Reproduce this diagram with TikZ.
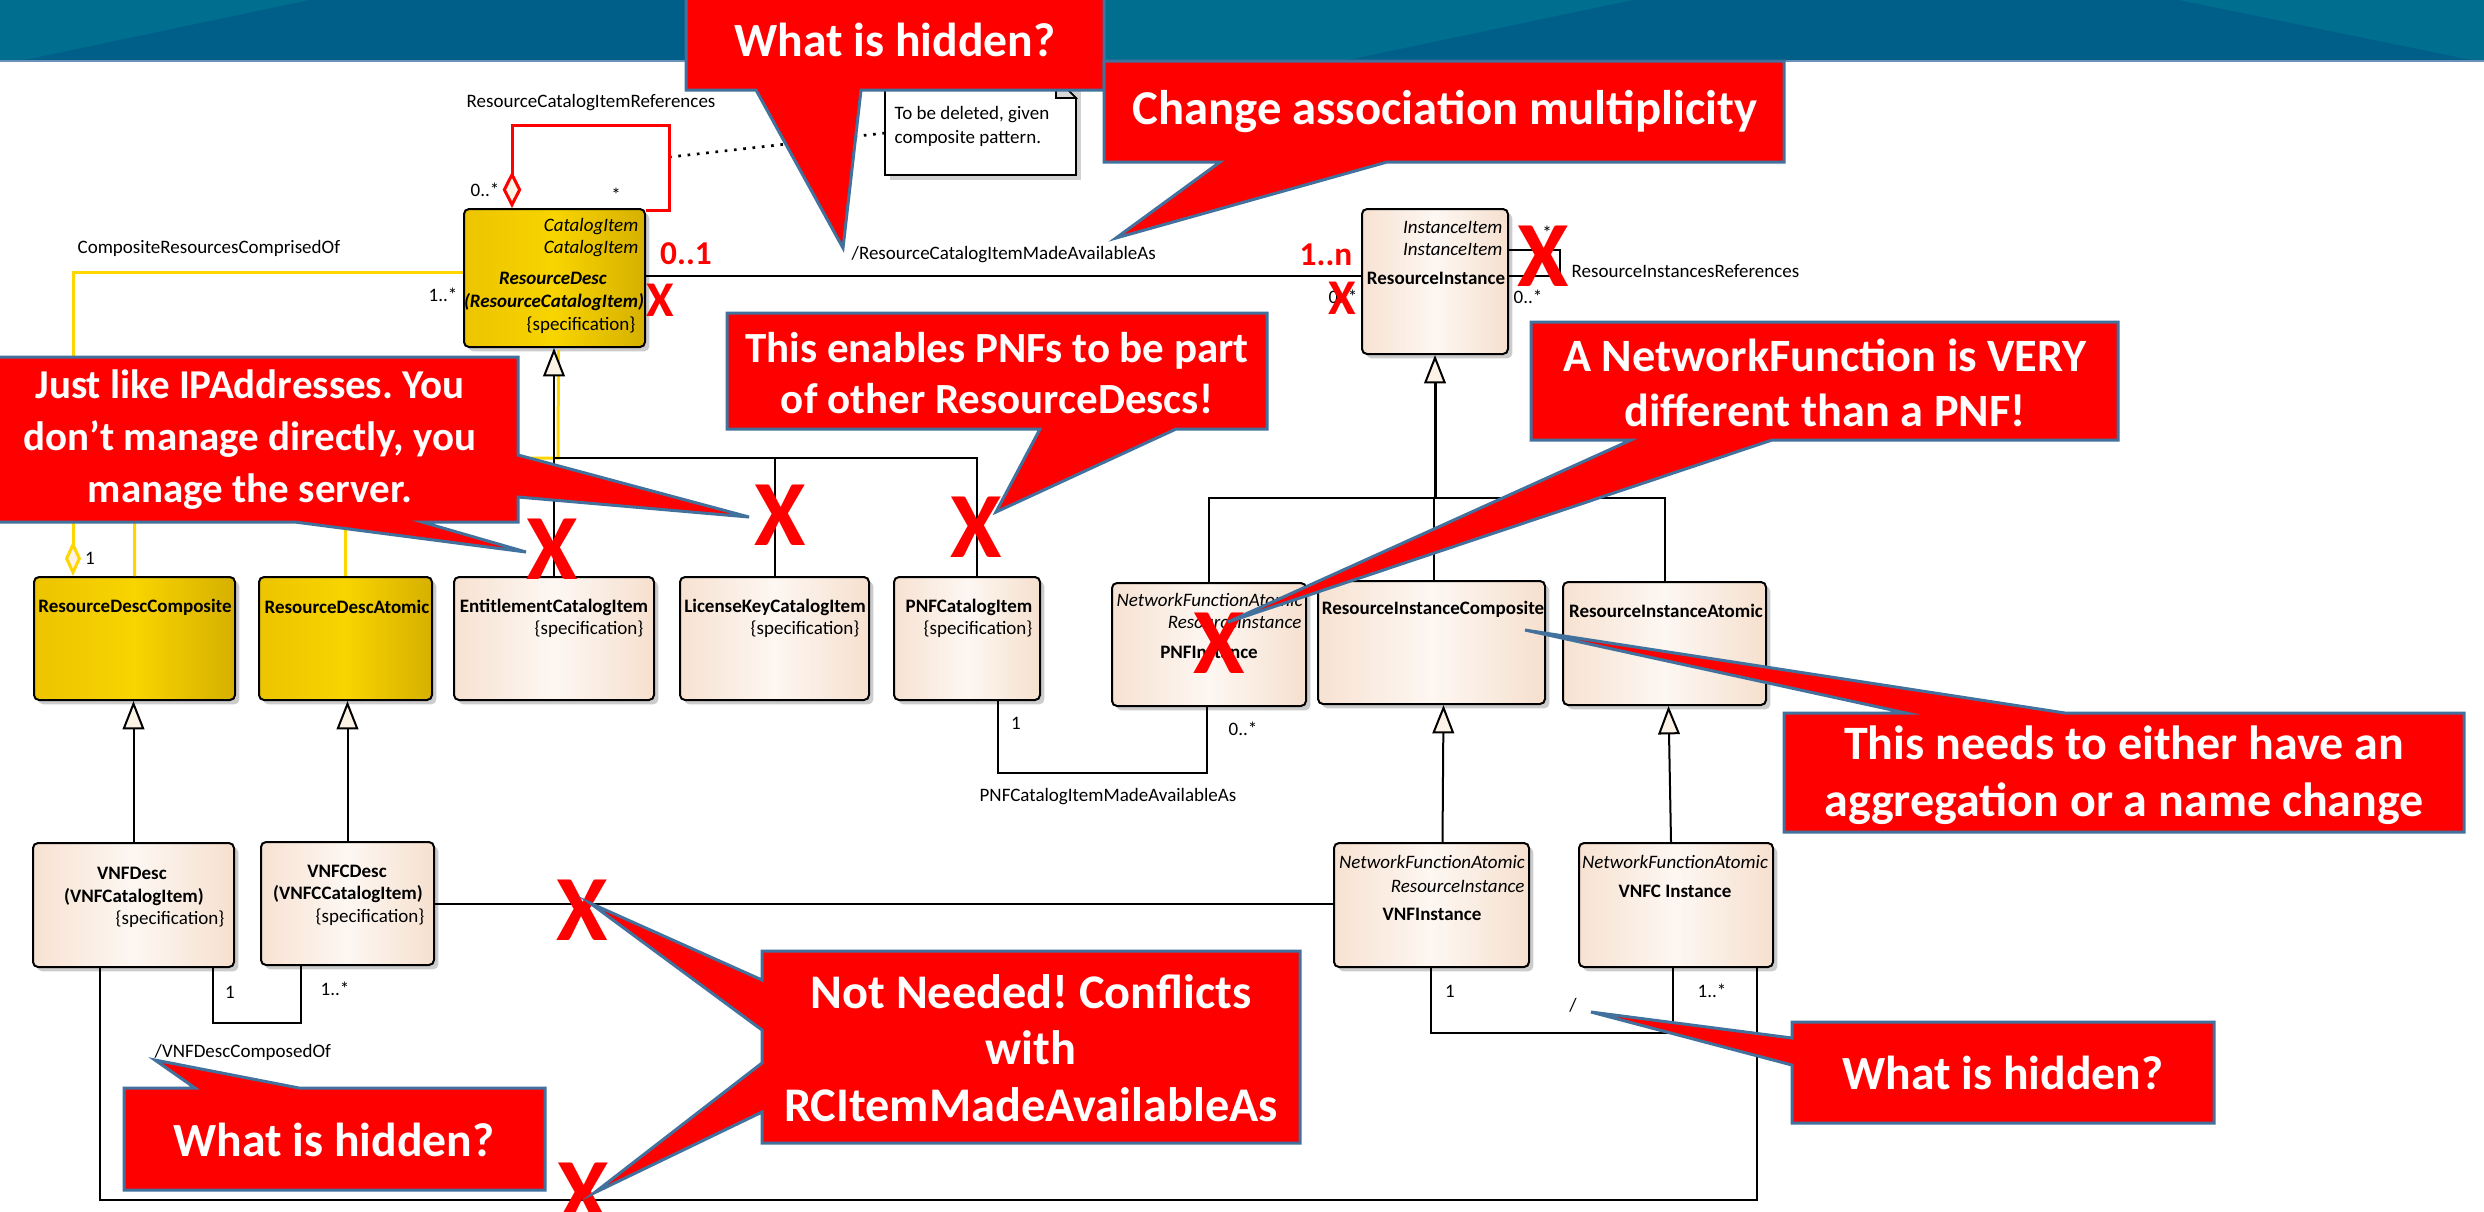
\documentclass[tikz,border=0pt]{standalone}
\usepackage{fontspec}
\setmainfont{Carlito}
\usetikzlibrary{arrows.meta,shadows,fit,calc}
\frenchspacing

\definecolor{bandblue}{RGB}{0,95,137}
\definecolor{bandlight}{RGB}{0,111,143}
\definecolor{bandline}{RGB}{105,145,185}
\definecolor{calloutred}{RGB}{255,0,0}
\definecolor{calloutedge}{RGB}{65,113,156}
\definecolor{goldL}{RGB}{236,196,0}
\definecolor{goldM}{RGB}{248,212,0}
\definecolor{goldR}{RGB}{214,176,0}
\definecolor{peachL}{RGB}{247,226,210}
\definecolor{peachM}{RGB}{253,247,242}
\definecolor{peachR}{RGB}{246,224,207}
\definecolor{linkyellow}{RGB}{255,214,0}
\definecolor{cream}{RGB}{252,242,230}

\tikzset{
  umlbase/.style={draw=black, line width=0.6pt, rounded corners=1.5pt, inner sep=0pt,
    drop shadow={shadow xshift=1.3pt, shadow yshift=-1.3pt, fill=black!20, opacity=1}},
  peachbox/.style={umlbase, left color=peachL, right color=peachR, middle color=peachM},
  goldbox/.style={umlbase, left color=goldL, right color=goldR, middle color=goldM},
  lbl/.style={inner sep=0pt, font=\fontsize{5.7}{6.8}\selectfont},
  lblit/.style={inner sep=0pt, font=\fontsize{5.7}{6.8}\selectfont\itshape},
  lblbf/.style={inner sep=0pt, font=\fontsize{5.7}{6.8}\selectfont\bfseries},
  lblbfit/.style={inner sep=0pt, font=\fontsize{5.7}{6.8}\selectfont\bfseries\itshape},
  redmult/.style={inner sep=0pt, text=red, font=\fontsize{10}{12}\selectfont\bfseries},
  bigx/.style={inner sep=0pt, text=red, font=\fontsize{28}{28}\selectfont\bfseries},
  smallx/.style={inner sep=0pt, text=red, font=\fontsize{15}{15}\selectfont\bfseries},
  umlline/.style={draw=black, line width=0.6pt},
  yellowline/.style={draw=linkyellow, line width=0.9pt},
  gen/.style={umlline, -{Triangle[length=8.5pt,width=6.5pt,fill=cream,line width=0.6pt]}},
  callout/.style={fill=calloutred, draw=calloutedge, line width=0.9pt, line join=miter},
  calltext/.style={inner sep=0pt, text=white, align=center,
    font=\fontsize{14.3}{17}\selectfont\bfseries},
}

\begin{document}
\begin{tikzpicture}[x=0.3pt,y=-0.3pt]
\useasboundingbox (0,0) rectangle (2484,1211);
\fill[white] (0,0) rectangle (2484,1211);

% ---------- slide header band ----------
\fill[bandblue] (0,0) rectangle (2484,60);
\fill[bandlight] (0,0) -- (309,0) -- (24,60) -- (0,60) -- cycle;
\fill[bandlight] (1104,0) -- (1632,0) -- (1347,60) -- (1104,60) -- cycle;
\fill[bandlight] (2179,0) -- (2484,0) -- (2484,60) -- (2472,60) -- cycle;
\draw[bandline, line width=0.8pt] (0,61) -- (2484,61);

% ---------- note ----------
\fill[black!18] (890,82) rectangle (1081,180);
\draw[fill=white, line width=0.5pt] (885,78) -- (1056,78) -- (1076,98) -- (1076,175) -- (885,175) -- cycle;
\draw[fill=black!15, line width=0.5pt] (1056,78) -- (1056,98) -- (1076,98) -- cycle;
\node[lbl, anchor=west] (note1) at (894,115) {To be deleted, given};
\node[lbl, anchor=west] (note2) at (894,138) {composite pattern.};
\coordinate (noteL) at (885,133);
\coordinate (loopR) at (670,157);
\draw[black, dotted, line width=0.8pt] (noteL) -- (loopR);

% ---------- classes ----------
\node[goldbox, fit={(464,209) (645,347)}] (RD) {};
\node[peachbox, fit={(1362,209) (1508,354)}] (RI) {};
\node[goldbox, fit={(34,577) (235,700)}] (RDC) {};
\node[goldbox, fit={(259,577) (432,700)}] (RDA) {};
\node[peachbox, fit={(454,577) (654,700)}] (ECI) {};
\node[peachbox, fit={(680,577) (869,700)}] (LKC) {};
\node[peachbox, fit={(894,577) (1040,700)}] (PNFC) {};
\node[peachbox, fit={(1112,583) (1306,706)}] (PNFI) {};
\node[peachbox, fit={(1318,581) (1545,704)}] (RIC) {};
\node[peachbox, fit={(1563,582) (1766,705)}] (RIA) {};
\node[peachbox, fit={(33,843) (234,967)}] (VNFD) {};
\node[peachbox, fit={(261,842) (434,965)}] (VNFCD) {};
\node[peachbox, fit={(1334,843) (1529,967)}] (VNFI) {};
\node[peachbox, fit={(1579,843) (1773,967)}] (VNFCI) {};

% ---------- generalisations ----------
\coordinate (rdbus) at (554,458);
\coordinate (ybus) at (558,458);
\draw[yellowline] (RDC.north) |- (ybus) -- ($(RD.south)+(4,2)$);
\draw[yellowline] (RDA.north) -- (RDA.north |- ybus);
\draw[gen] (ECI.north) -- (ECI.north |- RD.south);
\draw[umlline] (LKC.north) |- (rdbus);
\draw[umlline] ($(PNFC.north)+(10,0)$) |- (rdbus);

\coordinate (ribus) at (1434,498);
\draw[gen, line width=0.9pt] (RI.south |- ribus) -- (RI.south);
\draw[umlline] (PNFI.north) |- (RIA.north |- ribus) -- (RIA.north);
\draw[umlline] ($(RIC.north)+(2.5,0)$) -- ($(RIC.north |- ribus)+(2.5,0)$);

\draw[gen] (VNFD.north) -- (VNFD.north |- RDC.south);
\draw[gen] (VNFCD.north) -- (VNFCD.north |- RDA.south);
\draw[gen] ($(VNFI.north)+(11,0)$) -- ($(RIC.south)+(12,0)$);
\draw[gen] ($(VNFCI.north)+(-5,0)$) -- ($(RIA.south)+(4,0)$);

% ---------- associations ----------
\draw[umlline] ($(RD.east)+(0,-2)$) -- ($(RD.east -| RI.west)+(0,-2)$);
\draw[red, line width=0.9pt, {Diamond[length=11pt,width=5.6pt,fill=cream,line width=0.9pt]}-]
  ($(RD.north)+(-42.5,0)$) -- ++(0,-83) -| ($(RD.north east)+(23,2)$) -- ($(RD.north east)+(0,2)$);
\draw[yellowline, {Diamond[length=10.5pt,width=4.8pt,fill=cream,line width=0.9pt]}-]
  ($(RDC.north)+(-61.5,0)$) |- ($(RD.west)+(0,-6)$);
\draw[umlline] ($(RI.east)+(0,-31.5)$) -- ++(51,0) -- ++(0,26) -- ($(RI.east)+(0,-5.5)$);
\draw[umlline] ($(PNFC.south)+(31,0)$) -- ++(0,72) -| ($(PNFI.south)+(-2,0)$);
\draw[umlline] (VNFCD.east) -- (VNFCD.east -| VNFI.west);
\draw[umlline] ($(VNFD.south)+(79.5,0)$) -- ++(0,55) -| ($(VNFCD.south)+(-46.5,0)$);
\draw[umlline] ($(VNFD.south)+(-33.5,0)$) -- ++(0,232) -| ($(VNFCI.south)+(81,0)$);
\draw[umlline] ($(VNFI.south)+(-0.5,0)$) -- ++(0,65) -| ($(VNFCI.south)+(-3,0)$);

% ---------- class texts ----------
\node[lblit, anchor=east] (rdt1) at (639,227) {CatalogItem};
\node[lblit, anchor=east] (rdt2) at (639,249) {CatalogItem};
\node[lblbfit] (rdt3) at (553,278) {ResourceDesc};
\node[lblbfit] (rdt4) at (554,302) {(ResourceCatalogItem)};
\node[lbl, anchor=east] (rdt5) at (636,325) {\{specification\}};

\node[lblit, anchor=east] (rit1) at (1503,227) {InstanceItem};
\node[lblit, anchor=east] (rit2) at (1503,249) {InstanceItem};
\node[lblbf] (rit3) at (1436,278) {ResourceInstance};

\node[lblbf] (rdct) at (135,607) {ResourceDescComposite};
\node[lblbf] (rdat) at (347,607) {ResourceDescAtomic};
\node[lblbf] (ecit1) at (554,607) {EntitlementCatalogItem};
\node[lbl, anchor=east] (ecit2) at (644,629) {\{specification\}};
\node[lblbf] (lkct1) at (775,607) {LicenseKeyCatalogItem};
\node[lbl, anchor=east] (lkct2) at (860,629) {\{specification\}};
\node[lblbf] (pnfct1) at (969,607) {PNFCatalogItem};
\node[lbl, anchor=east] (pnfct2) at (1033,629) {\{specification\}};
\node[lblit, anchor=west] (pnfit1) at (1116,600) {NetworkFunctionAtomic};
\node[lblit, anchor=east] (pnfit2) at (1302,622) {ResourceInstance};
\node[lblbf] (pnfit3) at (1209,652) {PNFInstance};
\node[lblbf] (rict) at (1433,609) {ResourceInstanceComposite};
\node[lblbf] (riat) at (1666,611) {ResourceInstanceAtomic};

\node[lblbf] (vnfdt1) at (132,873) {VNFDesc};
\node[lblbf] (vnfdt2) at (134,897) {(VNFCatalogItem)};
\node[lbl, anchor=east] (vnfdt3) at (225,919) {\{specification\}};
\node[lblbf] (vnfcdt1) at (347,871) {VNFCDesc};
\node[lblbf] (vnfcdt2) at (348,894) {(VNFCCatalogItem)};
\node[lbl, anchor=east] (vnfcdt3) at (425,917) {\{specification\}};
\node[lblit] (vnfit1) at (1432,862) {NetworkFunctionAtomic};
\node[lblit, anchor=east] (vnfit2) at (1525,886) {ResourceInstance};
\node[lblbf] (vnfit3) at (1432,914) {VNFInstance};
\node[lblit] (vnfcit1) at (1675,862) {NetworkFunctionAtomic};
\node[lblbf] (vnfcit2) at (1675,891) {VNFC Instance};

% ---------- connector labels ----------
\node[lbl] (l1) at (591,103) {ResourceCatalogItemReferences};
\node[lbl] (l2) at (485,190) {0..*};
\node[lbl] (l3) at (616,195) {*};
\node[lbl, anchor=west] (l4) at (77,248) {CompositeResourcesComprisedOf};
\node[lbl] (l5) at (443,295) {1..*};
\node[lbl, anchor=west] (l6) at (851,255) {/ResourceCatalogItemMadeAvailableAs};
\node[lbl] (l7) at (1343,297) {0..*};
\node[lbl] (l8) at (1547,233) {*};
\node[lbl] (l9) at (1528,297) {0..*};
\node[lbl, anchor=west] (l10) at (1571,271) {ResourceInstancesReferences};
\node[lbl] (l11) at (90,558) {1};
\node[lbl] (l12) at (1016,723) {1};
\node[lbl] (l13) at (1243,729) {0..*};
\node[lbl] (l14) at (1108,797) {PNFCatalogItemMadeAvailableAs};
\node[lbl] (l15) at (230,992) {1};
\node[lbl] (l16) at (335,989) {1..*};
\node[lbl, anchor=west] (l17) at (154,1052) {/VNFDescComposedOf};
\node[lbl] (l18) at (1450,991) {1};
\node[lbl] (l19) at (1712,991) {1..*};
\node[lbl] (l20) at (1573,1005) {/};

% ---------- review marks ----------
\node[redmult] (m1) at (686,254) {0..1};
\node[redmult] (m2) at (1326,255) {1..n};
\node[smallx] (x1) at (660,300) {X};
\node[smallx] (x2) at (1342,298) {X};
\node[bigx] (x3) at (1543,256) {X};
\node[bigx] (x4) at (552,549) {X};
\node[bigx] (x5) at (780,515) {X};
\node[bigx] (x6) at (976,527) {X};
\node[bigx] (x7) at (1219,643) {X};
\node[bigx] (x8) at (582,910) {X};
\node[bigx] (x9) at (583,1193) {X};

% ---------- callouts ----------
\draw[callout] (686,-5) -- (1104,-5) -- (1104,90) -- (861,90) -- (843,248) -- (756,90) -- (686,90) -- cycle;
\node[calltext] (c1) at (895,40) {What is hidden?};

\draw[callout] (1104,61) -- (1784,61) -- (1784,162) -- (1387,162) -- (1116,238) -- (1220,162) -- (1104,162) -- cycle;
\node[calltext, font=\fontsize{14.6}{17}\selectfont\bfseries] (c2) at (1445,111) {Change association multiplicity};

\draw[callout] (-5,357) -- (518,357) -- (518,455) -- (749,517) -- (518,497) -- (518,522)
  -- (422,522) -- (526,552) -- (295,522) -- (-5,522) -- cycle;
\node[calltext, font=\fontsize{12.3}{15.6}\selectfont\bfseries] (c3) at (250,440)
  {Just like IPAddresses. You\\don’t manage directly, you\\manage the server.};

\draw[callout] (727,313) -- (1267,313) -- (1267,429) -- (1176,429) -- (996,512) -- (1040,429) -- (727,429) -- cycle;
\node[calltext, font=\fontsize{12.9}{15.2}\selectfont\bfseries] (c4) at (997,373) {This enables PNFs to be part\\of other ResourceDescs!};

\draw[callout] (1531,322) -- (2118,322) -- (2118,440) -- (1772,440) -- (1228,622) -- (1631,440) -- (1531,440) -- cycle;
\node[calltext, font=\fontsize{13.9}{16.5}\selectfont\bfseries] (c5) at (1825,383) {A NetworkFunction is VERY\\different than a PNF!};

\draw[callout] (1784,713) -- (1906,713) -- (1525,630) -- (2065,713) -- (2464,713) -- (2464,832) -- (1784,832) -- cycle;
\node[calltext, font=\fontsize{14.4}{17}\selectfont\bfseries] (c6) at (2124,775) {This needs to either have an\\aggregation or a name change};

\draw[callout] (762,951) -- (1300,951) -- (1300,1143) -- (762,1143) -- (762,1112) -- (594,1193) -- (762,1063)
  -- (762,1030) -- (590,903) -- (762,980) -- cycle;
\node[calltext, font=\fontsize{14.5}{17}\selectfont\bfseries] (c7) at (1031,1048)
  {Not Needed! Conflicts\\with\\RCItemMadeAvailableAs};

\draw[callout] (124,1088) -- (195,1088) -- (155,1060) -- (299,1088) -- (545,1088) -- (545,1190) -- (124,1190) -- cycle;
\node[calltext] (c8) at (334,1140) {What is hidden?};

\draw[callout] (1792,1022) -- (2214,1022) -- (2214,1123) -- (1792,1123) -- (1792,1065) -- (1591,1012) -- (1792,1038) -- cycle;
\node[calltext] (c9) at (2003,1073) {What is hidden?};
\end{tikzpicture}
\end{document}
